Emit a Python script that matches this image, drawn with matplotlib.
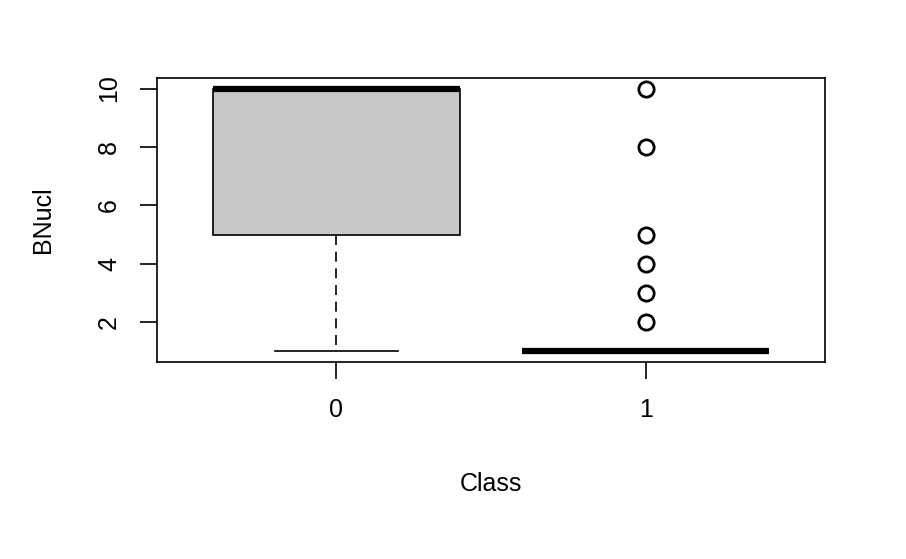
import matplotlib
matplotlib.use("Agg")
import matplotlib.pyplot as plt

classes = ["0", "1"]
whislo = [1, 1]
q1 = [5, 1]
med = [10, 1]
q3 = [10, 1]
whishi = [10, 1]
fliers = [[], [2, 3, 4, 5, 8, 10]]

plt.rcParams['font.family'] = ['Liberation Sans', 'DejaVu Sans']

stats = []
for i in range(len(classes)):
    stats.append({"label": classes[i], "whislo": whislo[i], "q1": q1[i],
                  "med": med[i], "q3": q3[i], "whishi": whishi[i],
                  "fliers": fliers[i]})

fig = plt.figure(figsize=(9.06, 5.59), dpi=100)
ax = fig.add_axes([157/906, 1-362/559, (825-157)/906, (362-78)/559])
ax.bxp(stats, positions=[1, 2], widths=0.8, patch_artist=True,
       boxprops=dict(facecolor="#c8c8c8", edgecolor="black", linewidth=1.2),
       medianprops=dict(color="black", linewidth=4.5, solid_capstyle="butt"),
       whiskerprops=dict(color="black", linewidth=1.2, linestyle=(0, (6, 4))),
       capprops=dict(color="black", linewidth=1.2),
       capwidths=0.4,
       flierprops=dict(marker="o", markerfacecolor="none", markeredgecolor="black",
                       markersize=11, markeredgewidth=2))
ax.set_xlim(0.42, 2.58)
ax.set_ylim(0.64, 10.36)
ax.set_yticks([2, 4, 6, 8, 10])
ax.set_xticks([1, 2])
ax.set_xticklabels(classes)
ax.tick_params(labelsize=18, length=12, width=1.2, pad=14)
for lab in ax.get_yticklabels():
    lab.set_rotation(90)
    lab.set_va("center")
for s in ax.spines.values():
    s.set_linewidth(1.2)
ax.set_xlabel("Class", fontsize=18, labelpad=36)
ax.set_ylabel("BNucl", fontsize=18, labelpad=30)
fig.savefig("out.png", dpi=100)
